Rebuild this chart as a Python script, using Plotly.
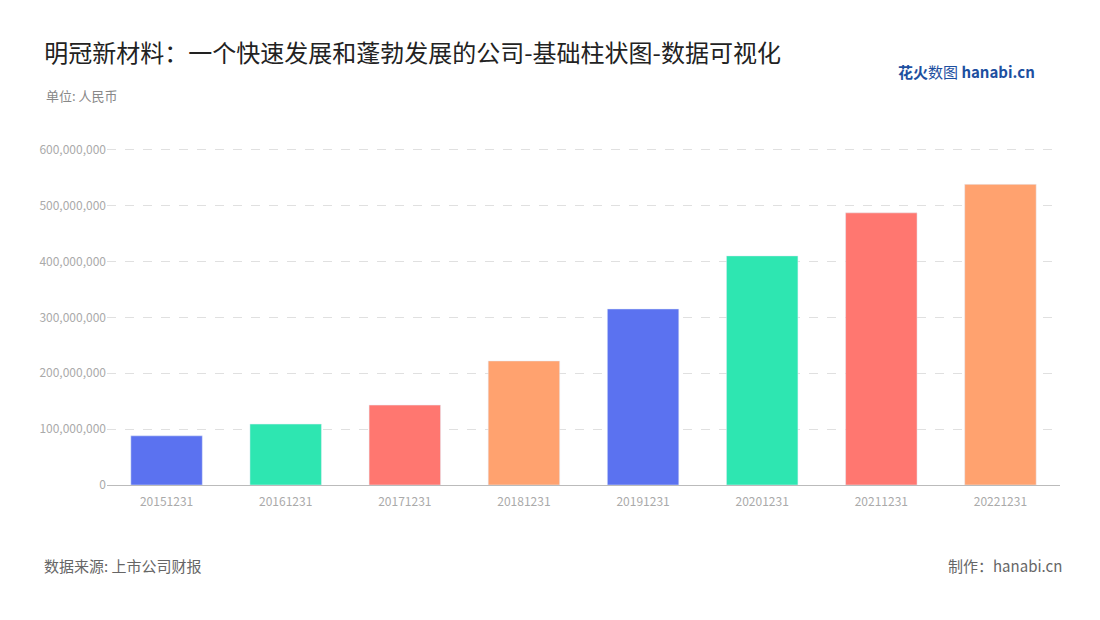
import plotly.graph_objects as go

years = ["20151231", "20161231", "20171231", "20181231",
         "20191231", "20201231", "20211231", "20221231"]
revenue = [88e6, 109e6, 143e6, 222e6, 315e6, 410e6, 487e6, 538e6]
colors = ["#5B72F0", "#2EE6B1", "#FF7770", "#FFA26F"] * 2
tick_vals = [0, 100e6, 200e6, 300e6, 400e6, 500e6, 600e6]
tick_text = ["0", "100,000,000", "200,000,000", "300,000,000",
             "400,000,000", "500,000,000", "600,000,000"]

font = "Noto Sans CJK SC"

fig = go.Figure(go.Bar(x=years, y=revenue, marker_color=colors, width=0.6))

fig.update_layout(
    width=1100, height=620,
    paper_bgcolor="white", plot_bgcolor="white",
    margin=dict(l=99, r=48, t=135, b=143),
    font=dict(family=font, color="#999999", size=12),
    showlegend=False,
    title=dict(text="明冠新材料：一个快速发展和蓬勃发展的公司-基础柱状图-数据可视化",
               x=0.033, xanchor="left", y=0.927, yanchor="middle",
               font=dict(size=24, color="#222222", family=font)),
)
fig.update_xaxes(type="category", showline=True, linecolor="#BBBBBB",
                 ticks="", ticklabelstandoff=6,
                 tickfont=dict(color="#AAAAAA", size=12))
fig.update_yaxes(range=[0, 612e6], tickvals=tick_vals, ticktext=tick_text,
                 showgrid=True, gridcolor="#E0E0E0", griddash="dash",
                 zeroline=False, tickfont=dict(color="#AAAAAA", size=12))

fig.add_annotation(text="单位: 人民币", xref="paper", yref="paper",
                   x=-0.066, y=1.172, xanchor="left", showarrow=False,
                   font=dict(size=13, color="#888888"))
fig.add_annotation(text="数据来源: 上市公司财报", xref="paper", yref="paper",
                   x=-0.068, y=-0.272, xanchor="left", showarrow=False,
                   font=dict(size=15, color="#666666"))
fig.add_annotation(text="制作：hanabi.cn", xref="paper", yref="paper",
                   x=1.004, y=-0.272, xanchor="right", showarrow=False,
                   font=dict(size=15, color="#666666"))
fig.add_annotation(text="<b>花火</b>数图 <b>hanabi.cn</b>", xref="paper", yref="paper",
                   x=0.976, y=1.246, xanchor="right", showarrow=False,
                   font=dict(size=15, color="#1D4FA0"))

fig.write_html("out.html")
